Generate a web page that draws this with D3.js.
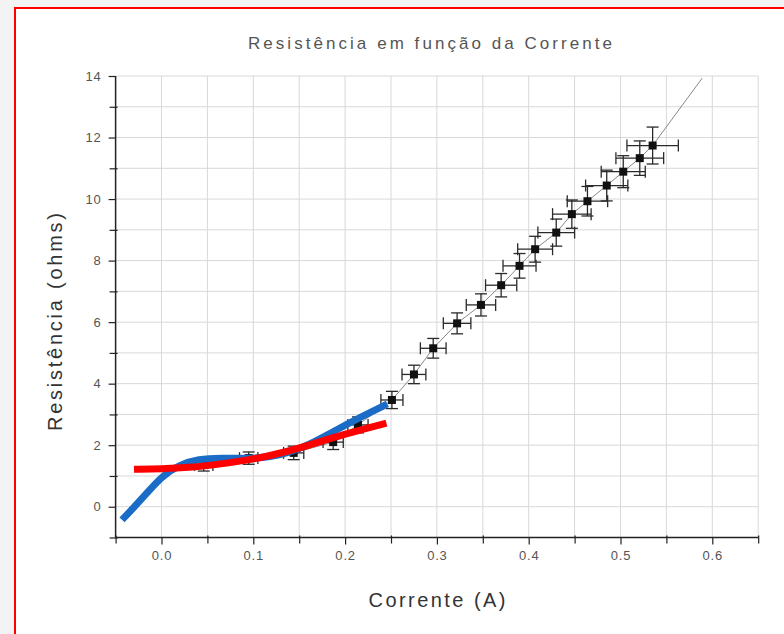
<!DOCTYPE html>
<html><head><meta charset="utf-8">
<script src="https://cdn.jsdelivr.net/npm/d3@7/dist/d3.min.js"></script>
<style>
html,body{margin:0;padding:0;background:#f3f3f3;}
svg{display:block;}
</style></head>
<body>
<svg id="c" width="784" height="634"></svg>
<script>
// ---- data ----
const title = "Resistência em função da Corrente";
const xLabel = "Corrente (A)";
const yLabel = "Resistência (ohms)";
const xMajorTicks = [0.0, 0.1, 0.2, 0.3, 0.4, 0.5, 0.6];
const xMinorTicks = [-0.05, 0.05, 0.15, 0.25, 0.35, 0.45, 0.55, 0.65];
const yMajorTicks = [0, 2, 4, 6, 8, 10, 12, 14];
const yMinorTicks = [-1, 1, 3, 5, 7, 9, 11, 13];

const current = [0.046, 0.095, 0.144, 0.187, 0.214, 0.251, 0.275, 0.296, 0.322, 0.348,
                 0.370, 0.390, 0.407, 0.430, 0.447, 0.464, 0.485, 0.503, 0.521, 0.535];
const resistance = [1.36, 1.58, 1.75, 2.10, 2.66, 3.47, 4.30, 5.15, 5.96, 6.56,
                    7.20, 7.83, 8.37, 8.91, 9.51, 9.93, 10.44, 10.89, 11.33, 11.74];
const currentErr = [0.010, 0.010, 0.011, 0.011, 0.011, 0.012, 0.013, 0.014, 0.015, 0.016,
                    0.017, 0.018, 0.019, 0.020, 0.021, 0.022, 0.023, 0.024, 0.026, 0.028];
const resistanceErr = [0.20, 0.20, 0.22, 0.24, 0.26, 0.28, 0.30, 0.32, 0.34, 0.36,
                       0.38, 0.40, 0.42, 0.44, 0.46, 0.48, 0.50, 0.52, 0.56, 0.60];
// thin connecting line continues to this end point
const lineEndX = [0.589];
const lineEndY = [13.93];

const blueX = [-0.043, -0.020, 0.000, 0.020, 0.040, 0.065, 0.093, 0.120, 0.137, 0.160, 0.188, 0.215, 0.246];
const blueY = [-0.43, 0.30, 0.99, 1.37, 1.55, 1.59, 1.56, 1.62, 1.74, 2.00, 2.46, 2.88, 3.34];
const redX = [-0.030, 0.000, 0.030, 0.060, 0.093, 0.120, 0.150, 0.188, 0.215, 0.245];
const redY = [1.22, 1.23, 1.27, 1.37, 1.51, 1.67, 1.90, 2.26, 2.48, 2.72];

// ---- drawing ----
const svg = d3.select("#c");
const FONT = "'Liberation Sans', Arial, sans-serif";

// page & red frame
svg.append("rect").attr("x", 14).attr("y", 7).attr("width", 770).attr("height", 627).attr("fill", "#fff");
svg.append("path").attr("d", "M15,634 V8 H784").attr("fill", "none").attr("stroke", "#ff0000").attr("stroke-width", 2);

const x = d3.scaleLinear().domain([-0.05, 0.65]).range([115.6, 758.2]);
const y = d3.scaleLinear().domain([-1, 14]).range([537.5, 76]);

// grid
const g = svg.append("g");
const vGrid = xMajorTicks.concat(xMinorTicks).filter(v => v > -0.05);
g.selectAll(".vg").data(vGrid).join("line")
  .attr("x1", d => x(d)).attr("x2", d => x(d)).attr("y1", y(14)).attr("y2", y(-1))
  .attr("stroke", "#d8d8d8").attr("stroke-width", 1);
const hGrid = yMajorTicks.concat(yMinorTicks).filter(v => v > -1);
g.selectAll(".hg").data(hGrid).join("line")
  .attr("x1", x(-0.05)).attr("x2", x(0.65)).attr("y1", d => y(d)).attr("y2", d => y(d))
  .attr("stroke", "#d8d8d8").attr("stroke-width", 1);

// axes
function styleAxis(sel) {
  sel.select(".domain").remove();
  sel.selectAll("line").attr("stroke", "#222").attr("stroke-width", 1.2);
  sel.selectAll("text").attr("fill", "#555").attr("font-family", FONT).attr("font-size", 13)
    .attr("letter-spacing", 0.8);
}
const xAxisMaj = svg.append("g").attr("transform", `translate(0,${y(-1)})`)
  .call(d3.axisBottom(x).tickValues(xMajorTicks).tickSize(7).tickPadding(6).tickFormat(d3.format(".1f")));
styleAxis(xAxisMaj);
const xAxisMin = svg.append("g").attr("transform", `translate(0,${y(-1)})`)
  .call(d3.axisBottom(x).tickValues(xMinorTicks).tickSizeInner(6).tickSizeOuter(0).tickFormat(""));
styleAxis(xAxisMin);
xAxisMin.selectAll("line").attr("y1", -2);

const yAxisMaj = svg.append("g").attr("transform", `translate(${x(-0.05)},0)`)
  .call(d3.axisLeft(y).tickValues(yMajorTicks).tickSize(7).tickPadding(7));
styleAxis(yAxisMaj);
const yAxisMin = svg.append("g").attr("transform", `translate(${x(-0.05)},0)`)
  .call(d3.axisLeft(y).tickValues(yMinorTicks).tickSizeInner(6).tickSizeOuter(0).tickFormat(""));
styleAxis(yAxisMin);
yAxisMin.selectAll("line").attr("x1", 2);

svg.append("line").attr("x1", x(-0.05)).attr("x2", x(0.65)).attr("y1", y(-1)).attr("y2", y(-1))
  .attr("stroke", "#222").attr("stroke-width", 1.5);
svg.append("line").attr("x1", x(-0.05)).attr("x2", x(-0.05)).attr("y1", y(-1)).attr("y2", y(14))
  .attr("stroke", "#222").attr("stroke-width", 1.5);

// data
const pts = current.map((c, i) => ({x: c, y: resistance[i], ex: currentErr[i], ey: resistanceErr[i]}));
const linePts = pts.map(p => [p.x, p.y]).concat(lineEndX.map((v, i) => [v, lineEndY[i]]));
svg.append("path").attr("d", d3.line().x(d => x(d[0])).y(d => y(d[1]))(linePts))
  .attr("fill", "none").attr("stroke", "#888").attr("stroke-width", 1);

const eb = svg.append("g").attr("stroke", "#2a2a2a").attr("stroke-width", 1.3);
const cap = 6;
pts.forEach(p => {
  eb.append("line").attr("x1", x(p.x - p.ex)).attr("x2", x(p.x + p.ex)).attr("y1", y(p.y)).attr("y2", y(p.y));
  eb.append("line").attr("x1", x(p.x)).attr("x2", x(p.x)).attr("y1", y(p.y - p.ey)).attr("y2", y(p.y + p.ey));
  eb.append("line").attr("x1", x(p.x - p.ex)).attr("x2", x(p.x - p.ex)).attr("y1", y(p.y) - cap).attr("y2", y(p.y) + cap);
  eb.append("line").attr("x1", x(p.x + p.ex)).attr("x2", x(p.x + p.ex)).attr("y1", y(p.y) - cap).attr("y2", y(p.y) + cap);
  eb.append("line").attr("x1", x(p.x) - cap).attr("x2", x(p.x) + cap).attr("y1", y(p.y - p.ey)).attr("y2", y(p.y - p.ey));
  eb.append("line").attr("x1", x(p.x) - cap).attr("x2", x(p.x) + cap).attr("y1", y(p.y + p.ey)).attr("y2", y(p.y + p.ey));
});
svg.append("g").selectAll("rect").data(pts).join("rect")
  .attr("x", d => x(d.x) - 4).attr("y", d => y(d.y) - 4).attr("width", 8).attr("height", 8)
  .attr("fill", "#111");

// fitted curves
const curve = d3.line().curve(d3.curveBasis).x(d => x(d[0])).y(d => y(d[1]));
svg.append("path").attr("d", curve(blueX.map((v, i) => [v, blueY[i]])))
  .attr("fill", "none").attr("stroke", "#1a6cc6").attr("stroke-width", 7);
svg.append("path").attr("d", curve(redX.map((v, i) => [v, redY[i]])))
  .attr("fill", "none").attr("stroke", "#ff0000").attr("stroke-width", 7);

// texts
svg.append("text").attr("x", 430).attr("y", 49).attr("text-anchor", "middle")
  .attr("font-family", FONT).attr("font-size", 17).attr("fill", "#555")
  .attr("textLength", 364).attr("lengthAdjust", "spacing").text(title);
svg.append("text").attr("x", 437).attr("y", 607).attr("text-anchor", "middle")
  .attr("font-family", FONT).attr("font-size", 20).attr("fill", "#333")
  .attr("textLength", 137).attr("lengthAdjust", "spacing").text(xLabel);
svg.append("text").attr("transform", "translate(62,322) rotate(-90)").attr("text-anchor", "middle")
  .attr("font-family", FONT).attr("font-size", 20).attr("fill", "#333")
  .attr("textLength", 218).attr("lengthAdjust", "spacing").text(yLabel);
</script>
</body></html>
